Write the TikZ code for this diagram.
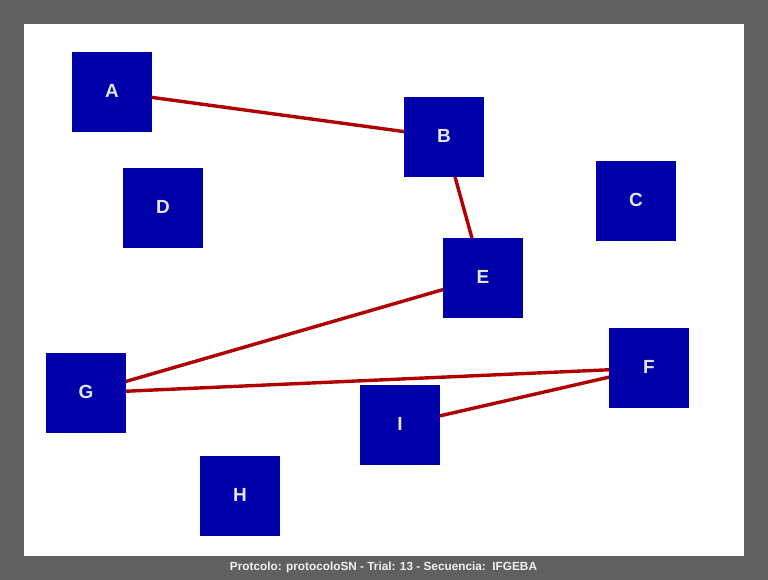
\documentclass[tikz,border=0pt]{standalone}
\usepackage{fontspec}
\setmainfont{Liberation Sans}
\definecolor{frame}{HTML}{606060}
\definecolor{boxblue}{HTML}{0000AA}
\definecolor{linkred}{HTML}{B00000}
\definecolor{labelgray}{HTML}{E4E4E4}
\begin{document}
\begin{tikzpicture}[x=1pt,y=-1pt,
  unit/.style={fill=boxblue, draw=none, minimum size=80pt, inner sep=0pt,
    text=labelgray, font=\fontsize{19}{19}\selectfont\bfseries},
  tag/.style={text=labelgray, font=\fontsize{19}{19}\selectfont\bfseries, inner sep=0pt},
  link/.style={draw=linkred, line width=3.4pt}]
  % canvas and frame
  \fill[frame] (0,0) rectangle (768,580);
  \fill[white] (24,24) rectangle (744,556);
  \useasboundingbox (0,0) rectangle (768,580);
  % node centres
  \coordinate (cA) at (112,92);
  \coordinate (cB) at (444,137);
  \coordinate (cC) at (636,201);
  \coordinate (cD) at (163,208);
  \coordinate (cE) at (483,278);
  \coordinate (cF) at (649,368);
  \coordinate (cG) at (86,393);
  \coordinate (cH) at (240,496);
  \coordinate (cI) at (400,425);
  % links run centre to centre, under the boxes
  \draw[link] (cA) -- (cB);
  \draw[link] (cB) -- (cE);
  \draw[link] (cE) -- (cG);
  \draw[link] (cG) -- (cF);
  \draw[link] (cI) -- (cF);
  % boxes, with their letters sitting slightly above centre
  \foreach \n in {A,B,C,D,E,F,G,H,I} {
    \node[unit] (\n) at (c\n) {};
    \node[tag] (t\n) at ([yshift=1.5pt]c\n) {\n};
  }
  % caption
  \node[text=white!94!black, font=\fontsize{11.8}{12}\selectfont\bfseries] (cap) at (383.5,567.5)
    {Protcolo: protocoloSN - Trial: 13 - Secuencia:\ \ IFGEBA};
\end{tikzpicture}
\end{document}
